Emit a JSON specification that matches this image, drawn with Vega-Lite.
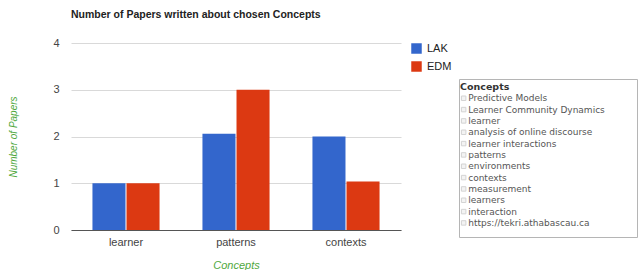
{
  "$schema": "https://vega.github.io/schema/vega-lite/v6.json",
  "background": "white",
  "padding": {"left": 8, "top": 9, "right": 1, "bottom": 0},
  "config": {"font": "Liberation Sans", "view": {"stroke": null}},
  "datasets": {
    "papers": [
      {"concept": "learner", "venue": "LAK", "papers": 1},
      {"concept": "learner", "venue": "EDM", "papers": 1},
      {"concept": "patterns", "venue": "LAK", "papers": 2.06},
      {"concept": "patterns", "venue": "EDM", "papers": 3},
      {"concept": "contexts", "venue": "LAK", "papers": 2},
      {"concept": "contexts", "venue": "EDM", "papers": 1.04}
    ],
    "concepts": [
      {"concept": "Predictive Models"},
      {"concept": "Learner Community Dynamics"},
      {"concept": "learner"},
      {"concept": "analysis of online discourse"},
      {"concept": "learner interactions"},
      {"concept": "patterns"},
      {"concept": "environments"},
      {"concept": "contexts"},
      {"concept": "measurement"},
      {"concept": "learners"},
      {"concept": "interaction"},
      {"concept": "https://tekri.athabascau.ca"}
    ]
  },
  "bounds": "flush",
  "spacing": 58,
  "hconcat": [
    {
      "title": {
        "text": "Number of Papers written about chosen Concepts",
        "anchor": "start",
        "frame": "group",
        "fontSize": 10.5,
        "fontWeight": "bold",
        "color": "#222",
        "offset": 17
      },
      "width": 330,
      "height": 187,
      "data": {"name": "papers"},
      "mark": {"type": "bar"},
      "encoding": {
        "x": {
          "field": "concept",
          "type": "nominal",
          "sort": ["learner", "patterns", "contexts"],
          "scale": {"paddingInner": 0.39, "paddingOuter": 0.195},
          "axis": {
            "labelAngle": 0,
            "labelFontSize": 11,
            "labelColor": "#444",
            "labelPadding": 6,
            "ticks": false,
            "domainColor": "#555",
            "title": "Concepts",
            "titleFontSize": 11,
            "titleFontStyle": "italic",
            "titleFontWeight": "normal",
            "titleColor": "#4fa83d",
            "titlePadding": 12
          }
        },
        "xOffset": {
          "field": "venue",
          "type": "nominal",
          "sort": ["LAK", "EDM"],
          "scale": {"paddingInner": 0.03}
        },
        "y": {
          "field": "papers",
          "type": "quantitative",
          "scale": {"domain": [0, 4]},
          "axis": {
            "values": [0, 1, 2, 3, 4],
            "format": "d",
            "ticks": false,
            "domain": false,
            "labelPadding": 12,
            "labelFontSize": 11,
            "labelColor": "#444",
            "gridColor": "#d9d9d9",
            "title": "Number of Papers",
            "titleFontSize": 10,
            "titleFontStyle": "italic",
            "titleFontWeight": "normal",
            "titleColor": "#4fa83d",
            "titlePadding": 34
          }
        },
        "color": {
          "field": "venue",
          "type": "nominal",
          "sort": ["LAK", "EDM"],
          "scale": {"domain": ["LAK", "EDM"], "range": ["#3366cc", "#dc3912"]},
          "legend": {
            "title": null,
            "orient": "none",
            "legendX": 340,
            "legendY": 0,
            "padding": 0,
            "symbolType": "square",
            "symbolSize": 110,
            "symbolStrokeWidth": 0,
            "labelFontSize": 11,
            "labelColor": "#222",
            "labelOffset": 5,
            "rowPadding": 6
          }
        }
      }
    },
    {
      "bounds": "flush",
      "spacing": 10,
      "vconcat": [
        {
          "width": 178,
          "height": 26,
          "data": {"values": []},
          "mark": "point",
          "encoding": {}
        },
        {
          "width": 178,
          "height": 158,
          "view": {"stroke": "#b5b5b5", "strokeWidth": 1},
          "data": {"name": "concepts"},
          "layer": [
            {
              "mark": {"type": "square", "size": 20, "filled": true, "color": "#eeeeee", "stroke": "#c2c2c2", "strokeWidth": 1},
              "encoding": {
                "x": {"datum": 4.7, "type": "quantitative", "scale": {"domain": [0, 178]}, "axis": null},
                "y": {
                  "field": "concept",
                  "type": "nominal",
                  "scale": {
                    "type": "point",
                    "padding": 0.97,
                    "align": 0.36,
                    "domain": ["Concepts", "Predictive Models", "Learner Community Dynamics", "learner", "analysis of online discourse", "learner interactions", "patterns", "environments", "contexts", "measurement", "learners", "interaction", "https://tekri.athabascau.ca"]
                  },
                  "axis": null
                }
              }
            },
            {
              "mark": {"type": "text", "align": "left", "baseline": "middle", "font": "DejaVu Sans", "fontSize": 9, "color": "#555"},
              "encoding": {
                "x": {"datum": 9.3, "type": "quantitative"},
                "y": {"field": "concept", "type": "nominal"},
                "text": {"field": "concept"}
              }
            },
            {
              "data": {"values": [{"concept": "Concepts"}]},
              "mark": {"type": "text", "align": "left", "baseline": "middle", "font": "DejaVu Sans", "fontSize": 9.5, "fontWeight": "bold", "color": "#333"},
              "encoding": {
                "x": {"datum": 1, "type": "quantitative"},
                "y": {"field": "concept", "type": "nominal"},
                "text": {"field": "concept"}
              }
            }
          ]
        }
      ]
    }
  ]
}
